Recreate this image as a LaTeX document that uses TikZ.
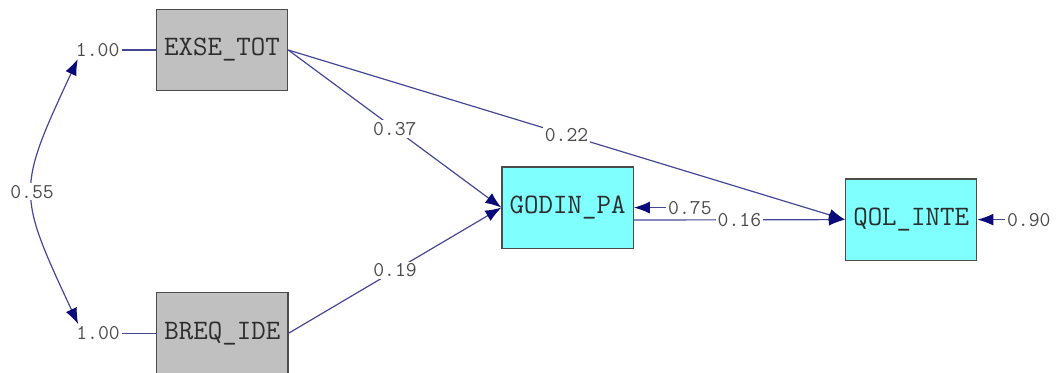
\documentclass[tikz,border=0pt]{standalone}
\usepackage{fontspec}
\usepackage{tikz}
\usetikzlibrary{arrows.meta, positioning}

\definecolor{pathblue}{RGB}{70,70,150}
\definecolor{tipnavy}{RGB}{10,10,120}
\definecolor{boxgray}{RGB}{192,192,192}
\definecolor{boxcyan}{RGB}{128,255,255}
\definecolor{txtgray}{RGB}{45,45,45}

\begin{document}
\begin{tikzpicture}[
    node distance=0.85cm,
    obs/.style={rectangle, draw=black!70, line width=0.9pt,
                minimum width=3.28cm, minimum height=2.03cm,
                font=\ttfamily\fontsize{20}{24}\selectfont, text=txtgray},
    xvar/.style={obs, fill=boxgray},
    yvar/.style={obs, fill=boxcyan},
    coef/.style={font=\ttfamily\fontsize{15}{18}\selectfont, text=txtgray!85,
                 fill=white, inner sep=1.5pt},
    resid/.style={coef, fill=none},
    link/.style={draw=pathblue, line width=0.85pt},
    tip/.style={-{Latex[length=4mm, width=3mm, color=tipnavy]}},
    arr/.style={link, tip}
  ]
  \useasboundingbox (0,0) rectangle (26.55,-9.325);

  \node[xvar] (exse) at (5.55,-1.25) {EXSE\_TOT};
  \node[xvar] (breq) at (5.56,-8.33) {BREQ\_IDE};
  \node[yvar] (godin) at (14.19,-5.19) {GODIN\_PA};
  \node[yvar] (qol) at (22.78,-5.49) {QOL\_INTE};

  \node[resid, left=0.85cm of exse] (vexse) {1.00};
  \node[resid, left=0.85cm of breq] (vbreq) {1.00};
  \node[resid, right=0.8cm of godin] (egodin) {0.75};
  \node[resid, right=0.68cm of qol] (eqol) {0.90};

  \draw[link] (vexse) -- (exse);
  \draw[link] (vbreq) -- (breq);
  \draw[link, {Latex[length=4mm, width=3mm, color=tipnavy]}-{Latex[length=4mm, width=3mm, color=tipnavy]}]
    ([xshift=3pt]vexse.south west) to[out=245, in=115, looseness=1.4] node[coef] {0.55} ([xshift=3pt]vbreq.north west);

  \draw[arr] (exse.east) -- node[coef] {0.37} (godin.west);
  \draw[arr] (exse.east) -- node[coef] {0.22} (qol.west);
  \draw[arr] (breq.east) -- node[coef] {0.19} (godin.west);
  \draw[arr] ([yshift=-0.31cm]godin.east) -- node[coef] {0.16} (qol.west);
  \draw[arr] (egodin) -- (godin.east);
  \draw[arr] (eqol) -- (qol.east);

\end{tikzpicture}
\end{document}
